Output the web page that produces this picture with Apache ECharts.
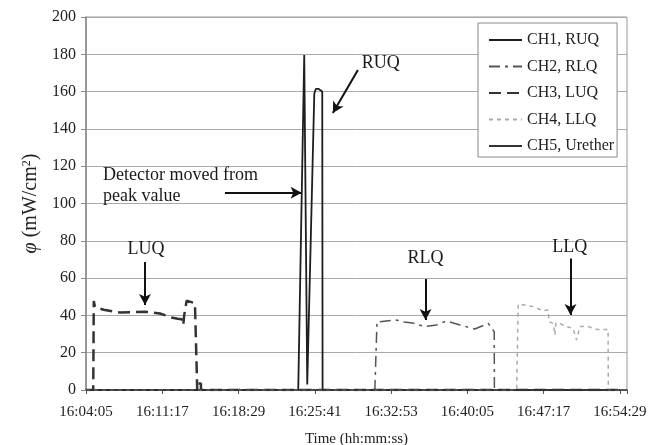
<!DOCTYPE html>
<html><head><meta charset="utf-8">
<script src="https://cdn.jsdelivr.net/npm/echarts@6/dist/echarts.min.js"></script>
<style>html,body{margin:0;padding:0;background:#fff}#c{width:651px;height:445px}</style>
</head><body><div id="c"></div>
<script>
// Time axis: seconds after 16:04:05
const startClock = [16, 4, 5];
const xTickStep = 432;           // 7:12 between tick labels
const xLastTick = 3024;          // 16:54:29
const xMax = 3064;               // plot area runs a little past last tick
const yMin = 0, yMax = 200, yStep = 20;

const seriesNames = ['CH1, RUQ', 'CH2, RLQ', 'CH3, LUQ', 'CH4, LLQ', 'CH5, Urether'];

// CH1, RUQ
const ch1T = [0, 1202, 1236, 1244, 1253, 1262, 1293, 1297, 1302, 1316, 1338, 1340, 3024];
const ch1V = [0, 0, 179.6, 179.6, 3, 3, 159, 160, 161.5, 161.5, 160, 0, 0];
// CH2, RLQ
const ch2T = [0, 1636, 1648, 1665, 1700, 1759, 1800, 1851, 1919, 1986, 2042, 2118, 2202, 2259, 2278, 2312, 2313, 3024];
const ch2V = [0, 0, 36.6, 36.6, 37, 37.5, 36.5, 35.9, 34, 34.9, 37, 34.9, 32.7, 34.9, 35.7, 31.3, 0, 0];
// CH3, LUQ
const ch3T = [0, 41, 44, 51, 100, 192, 260, 334, 380, 419, 450, 476, 520, 542, 551, 556, 570, 617, 628, 630, 634, 634, 651, 651, 3024];
const ch3V = [0, 0, 47.7, 44.5, 43, 41.5, 41.8, 42, 41.5, 41, 40, 39, 38.2, 37.9, 34.8, 40, 47.9, 46.5, 46.2, 0, 0, 3.5, 3.5, 0, 0];
// CH4, LLQ
const ch4T = [0, 2439, 2448, 2533, 2589, 2618, 2622, 2646, 2656, 2662, 2674, 2722, 2759, 2778, 2797, 2844, 2892, 2957, 2958, 3024];
const ch4V = [0, 0, 46.1, 44.7, 42.5, 42.9, 36.6, 35.7, 29.5, 36, 36, 34, 33, 26.8, 34, 34, 32.5, 32.5, 0, 0];
// CH5, Urether
const ch5T = [0, 3024];
const ch5V = [0, 0];

// Annotations (data coordinates)
const noteText = ['LUQ', 'RUQ', 'Detector moved from\npeak value', 'RLQ', 'LLQ'];
const noteT = [340, 1670, 96, 1923, 2740];
const noteV = [75.6, 175.3, 109.5, 70.8, 76.7];
const arrowFromT = [334, 1540, 787, 1923, 2744];
const arrowFromV = [68.6, 171.6, 105.8, 59.5, 70.5];
const arrowToT = [334, 1398, 1221, 1923, 2744];
const arrowToV = [45.6, 148.5, 105.8, 37.5, 40.2];

const serif = 'Liberation Serif';
const pair = (t, v) => t.map((x, i) => [x, v[i]]);
function clock(v) {
  let s = startClock[0] * 3600 + startClock[1] * 60 + startClock[2] + v;
  const h = Math.floor(s / 3600); s -= h * 3600;
  const m = Math.floor(s / 60); const sec = s - m * 60;
  const p = n => String(n).padStart(2, '0');
  return h + ':' + p(m) + ':' + p(sec);
}

const styles = [
  { color: '#1e1e1e', width: 1.8, type: 'solid' },
  { color: '#555', width: 1.5, type: [11, 5, 3, 5] },
  { color: '#333', width: 2.5, type: [12, 6] },
  { color: '#aaa', width: 1.5, type: [4, 4] },
  { color: '#333', width: 1.5, type: 'solid' }
];
const datas = [pair(ch1T, ch1V), pair(ch2T, ch2V), pair(ch3T, ch3V), pair(ch4T, ch4V), pair(ch5T, ch5V)];

const series = seriesNames.map((n, i) => ({
  name: n, type: 'line', data: datas[i], symbol: 'none', showSymbol: false,
  lineStyle: styles[i], itemStyle: { color: styles[i].color }, z: 3 + i
}));

series[4].markLine = {
  silent: true, symbol: ['none', 'arrow'], symbolSize: [9, 11],
  lineStyle: { color: '#111', width: 2, type: 'solid' },
  label: { show: false }, animation: false,
  data: arrowFromT.map((t, i) => [{ coord: [t, arrowFromV[i]] }, { coord: [arrowToT[i], arrowToV[i]] }])
};
series[4].markPoint = {
  silent: true, symbol: 'circle', symbolSize: 0, animation: false,
  data: noteText.map((txt, i) => ({
    coord: [noteT[i], noteV[i]], name: txt,
    label: {
      show: true, formatter: txt, position: i === 2 ? 'right' : 'inside', distance: 0,
      align: i === 2 ? 'left' : 'center', verticalAlign: 'middle',
      fontFamily: serif, fontSize: 18, color: '#1a1a1a', lineHeight: 21.7
    }
  }))
};

const chart = echarts.init(document.getElementById('c'), null, { renderer: 'canvas' });
chart.setOption({
  animation: false,
  backgroundColor: '#fff',
  grid: { left: 86, right: 24, top: 17, bottom: 55, show: true, borderColor: '#999', borderWidth: 1, outerBoundsMode: 'none', containLabel: false },
  legend: {
    orient: 'vertical', left: 478, top: 23, itemWidth: 33, itemHeight: 14, itemGap: 10.5,
    padding: [9, 3, 3, 10], backgroundColor: '#fff', borderColor: '#888', borderWidth: 1,
    itemStyle: { opacity: 0 },
    textStyle: { fontFamily: serif, fontSize: 16, color: '#222' }, selectedMode: false,
    data: seriesNames
  },
  xAxis: {
    type: 'value', min: 0, max: xMax, interval: xTickStep,
    name: 'Time (hh:mm:ss)', nameLocation: 'middle', nameGap: 42,
    nameTextStyle: { fontFamily: serif, fontSize: 15, color: '#222' },
    axisLine: { show: true, lineStyle: { color: '#333', width: 1.5 } },
    axisTick: { show: true, length: 4, lineStyle: { color: '#555' } },
    axisLabel: {
      margin: 15, fontFamily: serif, fontSize: 15, color: '#222', showMaxLabel: true,
      formatter: v => (v % xTickStep === 0 && v <= xLastTick) ? clock(v) : ''
    },
    splitLine: { show: false }
  },
  yAxis: {
    type: 'value', min: yMin, max: yMax, interval: yStep,
    name: '{i|φ} (mW/cm{s|2})', nameLocation: 'middle', nameGap: 43, nameRotate: 90,
    nameTextStyle: {
      fontFamily: serif, fontSize: 20, color: '#222',
      rich: {
        i: { fontFamily: serif, fontSize: 20, fontStyle: 'italic', color: '#222' },
        s: { fontFamily: serif, fontSize: 12, color: '#222', verticalAlign: 'top', padding: [0, 0, 9, 0] }
      }
    },
    axisLine: { show: true, lineStyle: { color: '#888', width: 1.5 } },
    axisTick: { show: true, length: 5, lineStyle: { color: '#888' } },
    axisLabel: { margin: 10, fontFamily: serif, fontSize: 16, color: '#222' },
    splitLine: { show: true, lineStyle: { color: '#aaa', width: 1 } }
  },
  series: series
});
</script></body></html>
